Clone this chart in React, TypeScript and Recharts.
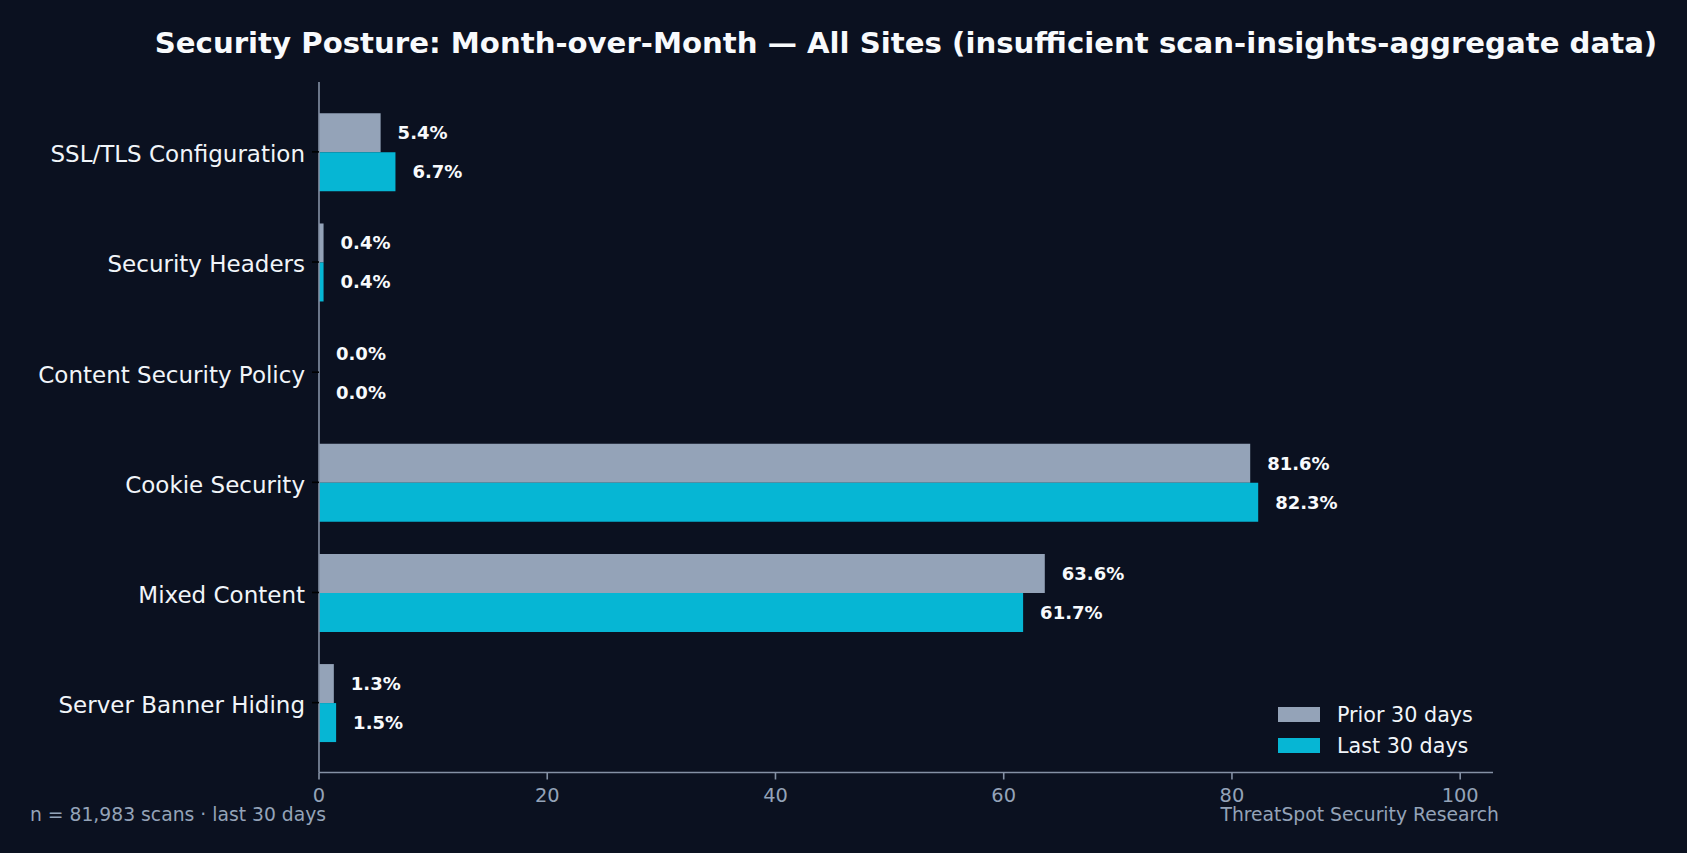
import React from "react";
import { Bar, BarChart, LabelList, XAxis, YAxis } from "recharts";

const categories = [
  "SSL/TLS Configuration",
  "Security Headers",
  "Content Security Policy",
  "Cookie Security",
  "Mixed Content",
  "Server Banner Hiding",
];
const priorValues = [5.4, 0.4, 0.0, 81.6, 63.6, 1.3];
const lastValues = [6.7, 0.4, 0.0, 82.3, 61.7, 1.5];
const xTicks = [0, 20, 40, 60, 80, 100];

const BG = "#0b1120";
const PRIOR = "#94a3b8";
const LAST = "#06b6d4";
const SPINE = "#8591a5";
const FONT = "'DejaVu Sans', sans-serif";

const series = [
  { key: "prior", name: "Prior 30 days", color: PRIOR },
  { key: "last", name: "Last 30 days", color: LAST },
];

const chartData = categories.map((name, i) => ({
  name,
  prior: priorValues[i],
  last: lastValues[i],
}));

function ValueLabel(props: any) {
  const { x, y, width, height, value } = props;
  return (
    <text
      x={x + Math.max(width, 0) + 17}
      y={y + height / 2}
      dy="0.36em"
      fill="#f8fafc"
      fontSize={18}
      fontWeight="bold"
      fontFamily={FONT}
      textAnchor="start"
    >
      {`${Number(value).toFixed(1)}%`}
    </text>
  );
}

// category labels sit a touch lower than the tick, like the source
function CategoryTick({ x, y, payload }: any) {
  return (
    <text
      x={x}
      y={y + 10.4}
      fill="#f1f5f9"
      fontSize={23}
      fontFamily={FONT}
      textAnchor="end"
    >
      {payload.value}
    </text>
  );
}

export default function App() {
  return (
    <div
      style={{
        position: "absolute",
        left: 0,
        top: 0,
        width: 1687,
        height: 853,
        background: BG,
        fontFamily: FONT,
        overflow: "hidden",
      }}
    >
      <div
        style={{
          position: "absolute",
          left: 906,
          top: 28.5,
          transform: "translateX(-50%)",
          whiteSpace: "nowrap",
          fontSize: 29.2,
          lineHeight: 1,
          fontWeight: "bold",
          color: "#f8fafc",
        }}
      >
        Security Posture: Month-over-Month — All Sites (insufficient scan-insights-aggregate data)
      </div>

      <BarChart
        width={1687}
        height={853}
        data={chartData}
        layout="vertical"
        margin={{ top: 82, right: 194, bottom: 20.5, left: 0 }}
        barCategoryGap="15%"
        barGap={0}
      >
        <XAxis
          type="number"
          domain={[0, 102.875]}
          ticks={xTicks}
          allowDataOverflow
          height={60}
          stroke={SPINE}
          strokeWidth={1.6}
          tickSize={7}
          tickMargin={8.5}
          tick={{ fill: PRIOR, fontSize: 19.4, fontFamily: FONT }}
        />
        <YAxis
          type="category"
          dataKey="name"
          width={319}
          padding={{ top: 14.8, bottom: 14.8 }}
          stroke={SPINE}
          strokeWidth={1.6}
          tickLine={{ stroke: "#000000", strokeWidth: 1.6 }}
          tickSize={7}
          tickMargin={7}
          interval={0}
          tick={<CategoryTick />}
        />
        {series.map((s) => (
          <Bar
            key={s.key}
            dataKey={s.key}
            name={s.name}
            fill={s.color}
            minPointSize={0.01}
            isAnimationActive={false}
          >
            <LabelList dataKey={s.key} content={<ValueLabel />} />
          </Bar>
        ))}
      </BarChart>

      <div
        style={{
          position: "absolute",
          left: 1278,
          top: 699.5,
          fontSize: 20.7,
          color: "#f1f5f9",
        }}
      >
        {series.map((s) => (
          <div
            key={s.key}
            style={{ display: "flex", alignItems: "center", height: 30.5 }}
          >
            <span
              style={{
                display: "inline-block",
                width: 42,
                height: 15,
                background: s.color,
                marginRight: 17,
              }}
            />
            <span style={{ lineHeight: 1, whiteSpace: "nowrap", position: "relative", top: 1 }}>
              {s.name}
            </span>
          </div>
        ))}
      </div>

      <div
        style={{
          position: "absolute",
          left: 30,
          top: 806,
          fontSize: 18.75,
          lineHeight: 1,
          color: PRIOR,
          whiteSpace: "nowrap",
        }}
      >
        n = 81,983 scans · last 30 days
      </div>
      <div
        style={{
          position: "absolute",
          right: 188,
          top: 806,
          fontSize: 18.75,
          lineHeight: 1,
          color: PRIOR,
          whiteSpace: "nowrap",
        }}
      >
        ThreatSpot Security Research
      </div>
    </div>
  );
}
